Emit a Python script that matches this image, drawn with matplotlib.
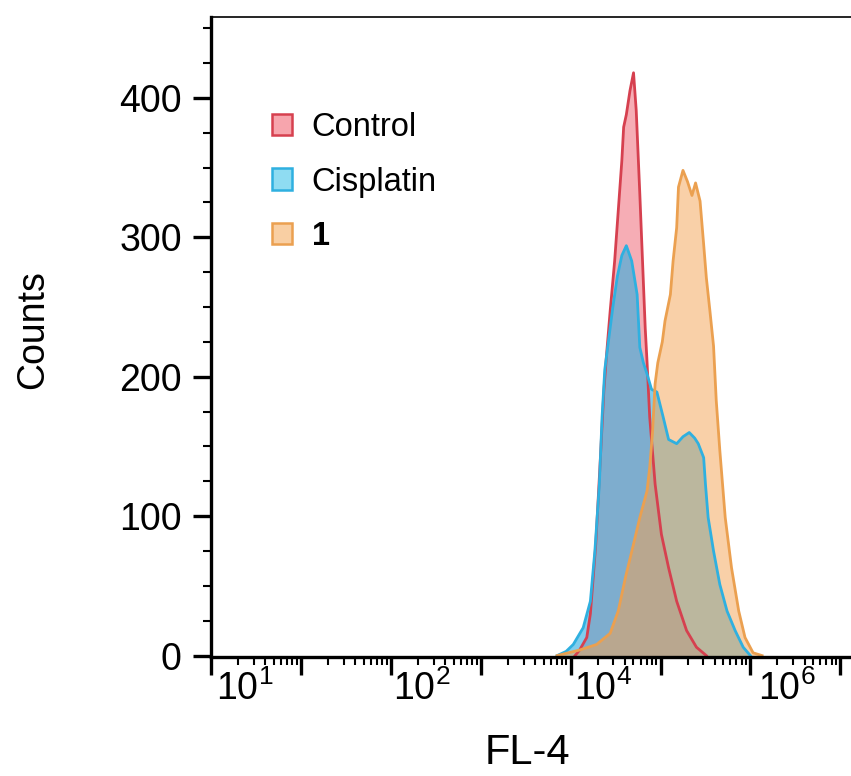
import numpy as np
import matplotlib
matplotlib.use('Agg')
import matplotlib.pyplot as plt
from matplotlib.patches import Patch
from matplotlib.ticker import LogLocator, NullFormatter, MultipleLocator
import matplotlib.transforms as mtrans

plt.rcParams['font.family'] = ['Liberation Sans', 'DejaVu Sans']

# FL-4 intensity (log10 decades of the plot axis) and counts
control_log = [4.05, 4.10, 4.18, 4.22, 4.28, 4.33, 4.37, 4.40, 4.44, 4.49, 4.53, 4.57,
               4.59, 4.62, 4.66, 4.70, 4.73, 4.77, 4.80, 4.83, 4.85, 4.88, 4.94, 5.01,
               5.09, 5.18, 5.29, 5.40, 5.51]
control_counts = [0, 4, 13, 30, 80, 140, 190, 216, 247, 283, 319, 355,
                  379, 388, 405, 418, 391, 331, 283, 235, 211, 171, 123, 87,
                  63, 39, 18, 6, 0]

cis_log = [3.85, 3.95, 4.03, 4.14, 4.22, 4.27, 4.32, 4.35, 4.38, 4.42, 4.47, 4.52,
           4.57, 4.62, 4.68, 4.74, 4.77, 4.81, 4.85, 4.90, 4.96, 5.03, 5.09, 5.18,
           5.25, 5.32, 5.38, 5.42, 5.48, 5.50, 5.53, 5.59, 5.66, 5.74, 5.83, 5.92, 6.00]
cis_counts = [0, 3, 8, 20, 39, 75, 123, 171, 205, 225, 250, 272,
              287, 294, 283, 259, 221, 210, 202, 191, 189, 171, 155, 152,
              157, 160, 156, 152, 142, 123, 99, 75, 51, 32, 18, 6, 0]

cmp1_log = [3.85, 4.10, 4.29, 4.44, 4.53, 4.61, 4.70, 4.77, 4.85, 4.88, 4.91, 4.94,
            4.97, 5.02, 5.05, 5.11, 5.14, 5.18, 5.20, 5.25, 5.30, 5.35, 5.39, 5.44,
            5.48, 5.51, 5.55, 5.59, 5.62, 5.66, 5.72, 5.79, 5.87, 5.94, 6.03, 6.13]
cmp1_counts = [0, 4, 8, 16, 32, 56, 80, 99, 118, 135, 159, 195,
               210, 225, 240, 259, 283, 307, 336, 348, 340, 330, 339, 326,
               295, 271, 247, 222, 183, 147, 99, 63, 32, 13, 2, 0]

labels = ['Control', 'Cisplatin', '1']
fill_colors = [(0.93, 0.33, 0.40, 0.48), (0.18, 0.68, 0.88, 0.6), (0.96, 0.64, 0.32, 0.5)]
edge_colors = ['#d6404f', '#2fb0e0', '#eba050']
legend_faces = ['#f7a5ad', '#8fdcf2', '#f9cfa3']

# tick labels as printed on the original axis, and where they sit (decades)
xlabel_pos = [0.37, 2.34, 4.36, 6.40]
xlabel_txt = ['1', '2', '4', '6']

fig = plt.figure(figsize=(8.51, 7.76), dpi=100)
ax = fig.add_axes([211 / 851, 119 / 776, 640 / 851, 640 / 776])

series = [(control_log, control_counts), (cis_log, cis_counts), (cmp1_log, cmp1_counts)]
for (lx, cy), fc, ec in zip(series, fill_colors, edge_colors):
    x = 10 ** np.array(lx)
    ax.fill_between(x, cy, 0, color=fc, linewidth=0)
    ax.plot(x, cy, color=ec, lw=2.0)

ax.set_xscale('log')
ax.set_xlim(1, 10 ** (640 / 89.9))
ax.set_ylim(-1, 458)

ax.xaxis.set_major_locator(LogLocator(base=10, numticks=20))
ax.xaxis.set_minor_locator(LogLocator(base=10, subs=np.arange(2, 10), numticks=20))
ax.xaxis.set_major_formatter(NullFormatter())
ax.xaxis.set_minor_formatter(NullFormatter())
ax.yaxis.set_major_locator(MultipleLocator(100))
ax.yaxis.set_minor_locator(MultipleLocator(25))

ax.tick_params(which='major', direction='out', length=13, width=2.4, labelsize=27, pad=8)
ax.tick_params(which='minor', direction='out', length=6, width=1.5)
ax.spines['right'].set_visible(False)
ax.spines['left'].set_linewidth(2.4)
ax.spines['bottom'].set_linewidth(2.4)
ax.spines['top'].set_linewidth(1.2)

trans = mtrans.blended_transform_factory(ax.transData, ax.transAxes)
for p, t in zip(xlabel_pos, xlabel_txt):
    ax.text(10 ** p, -0.067, r'$\mathregular{10^{%s}}$' % t, transform=trans,
            ha='center', va='baseline', fontsize=27)

fig.text(33 / 851, 1 - 330 / 776, 'Counts', rotation=90, ha='center', va='center', fontsize=27)
fig.text(527 / 851, 1 - 764 / 776, 'FL-4', ha='center', va='baseline', fontsize=30)

handles = [Patch(facecolor=f, edgecolor=ec, linewidth=1.8) for f, ec in zip(legend_faces, edge_colors)]
leg = ax.legend(handles, labels, loc='upper left', bbox_to_anchor=((272 - 211) / 640, (657 - 112) / 640),
                frameon=False, fontsize=23.5, handlelength=0.62, handleheight=0.62,
                handletextpad=0.6, labelspacing=0.72, borderpad=0, borderaxespad=0)
leg.get_texts()[2].set_fontweight('bold')

fig.savefig('out.png', dpi=100)
